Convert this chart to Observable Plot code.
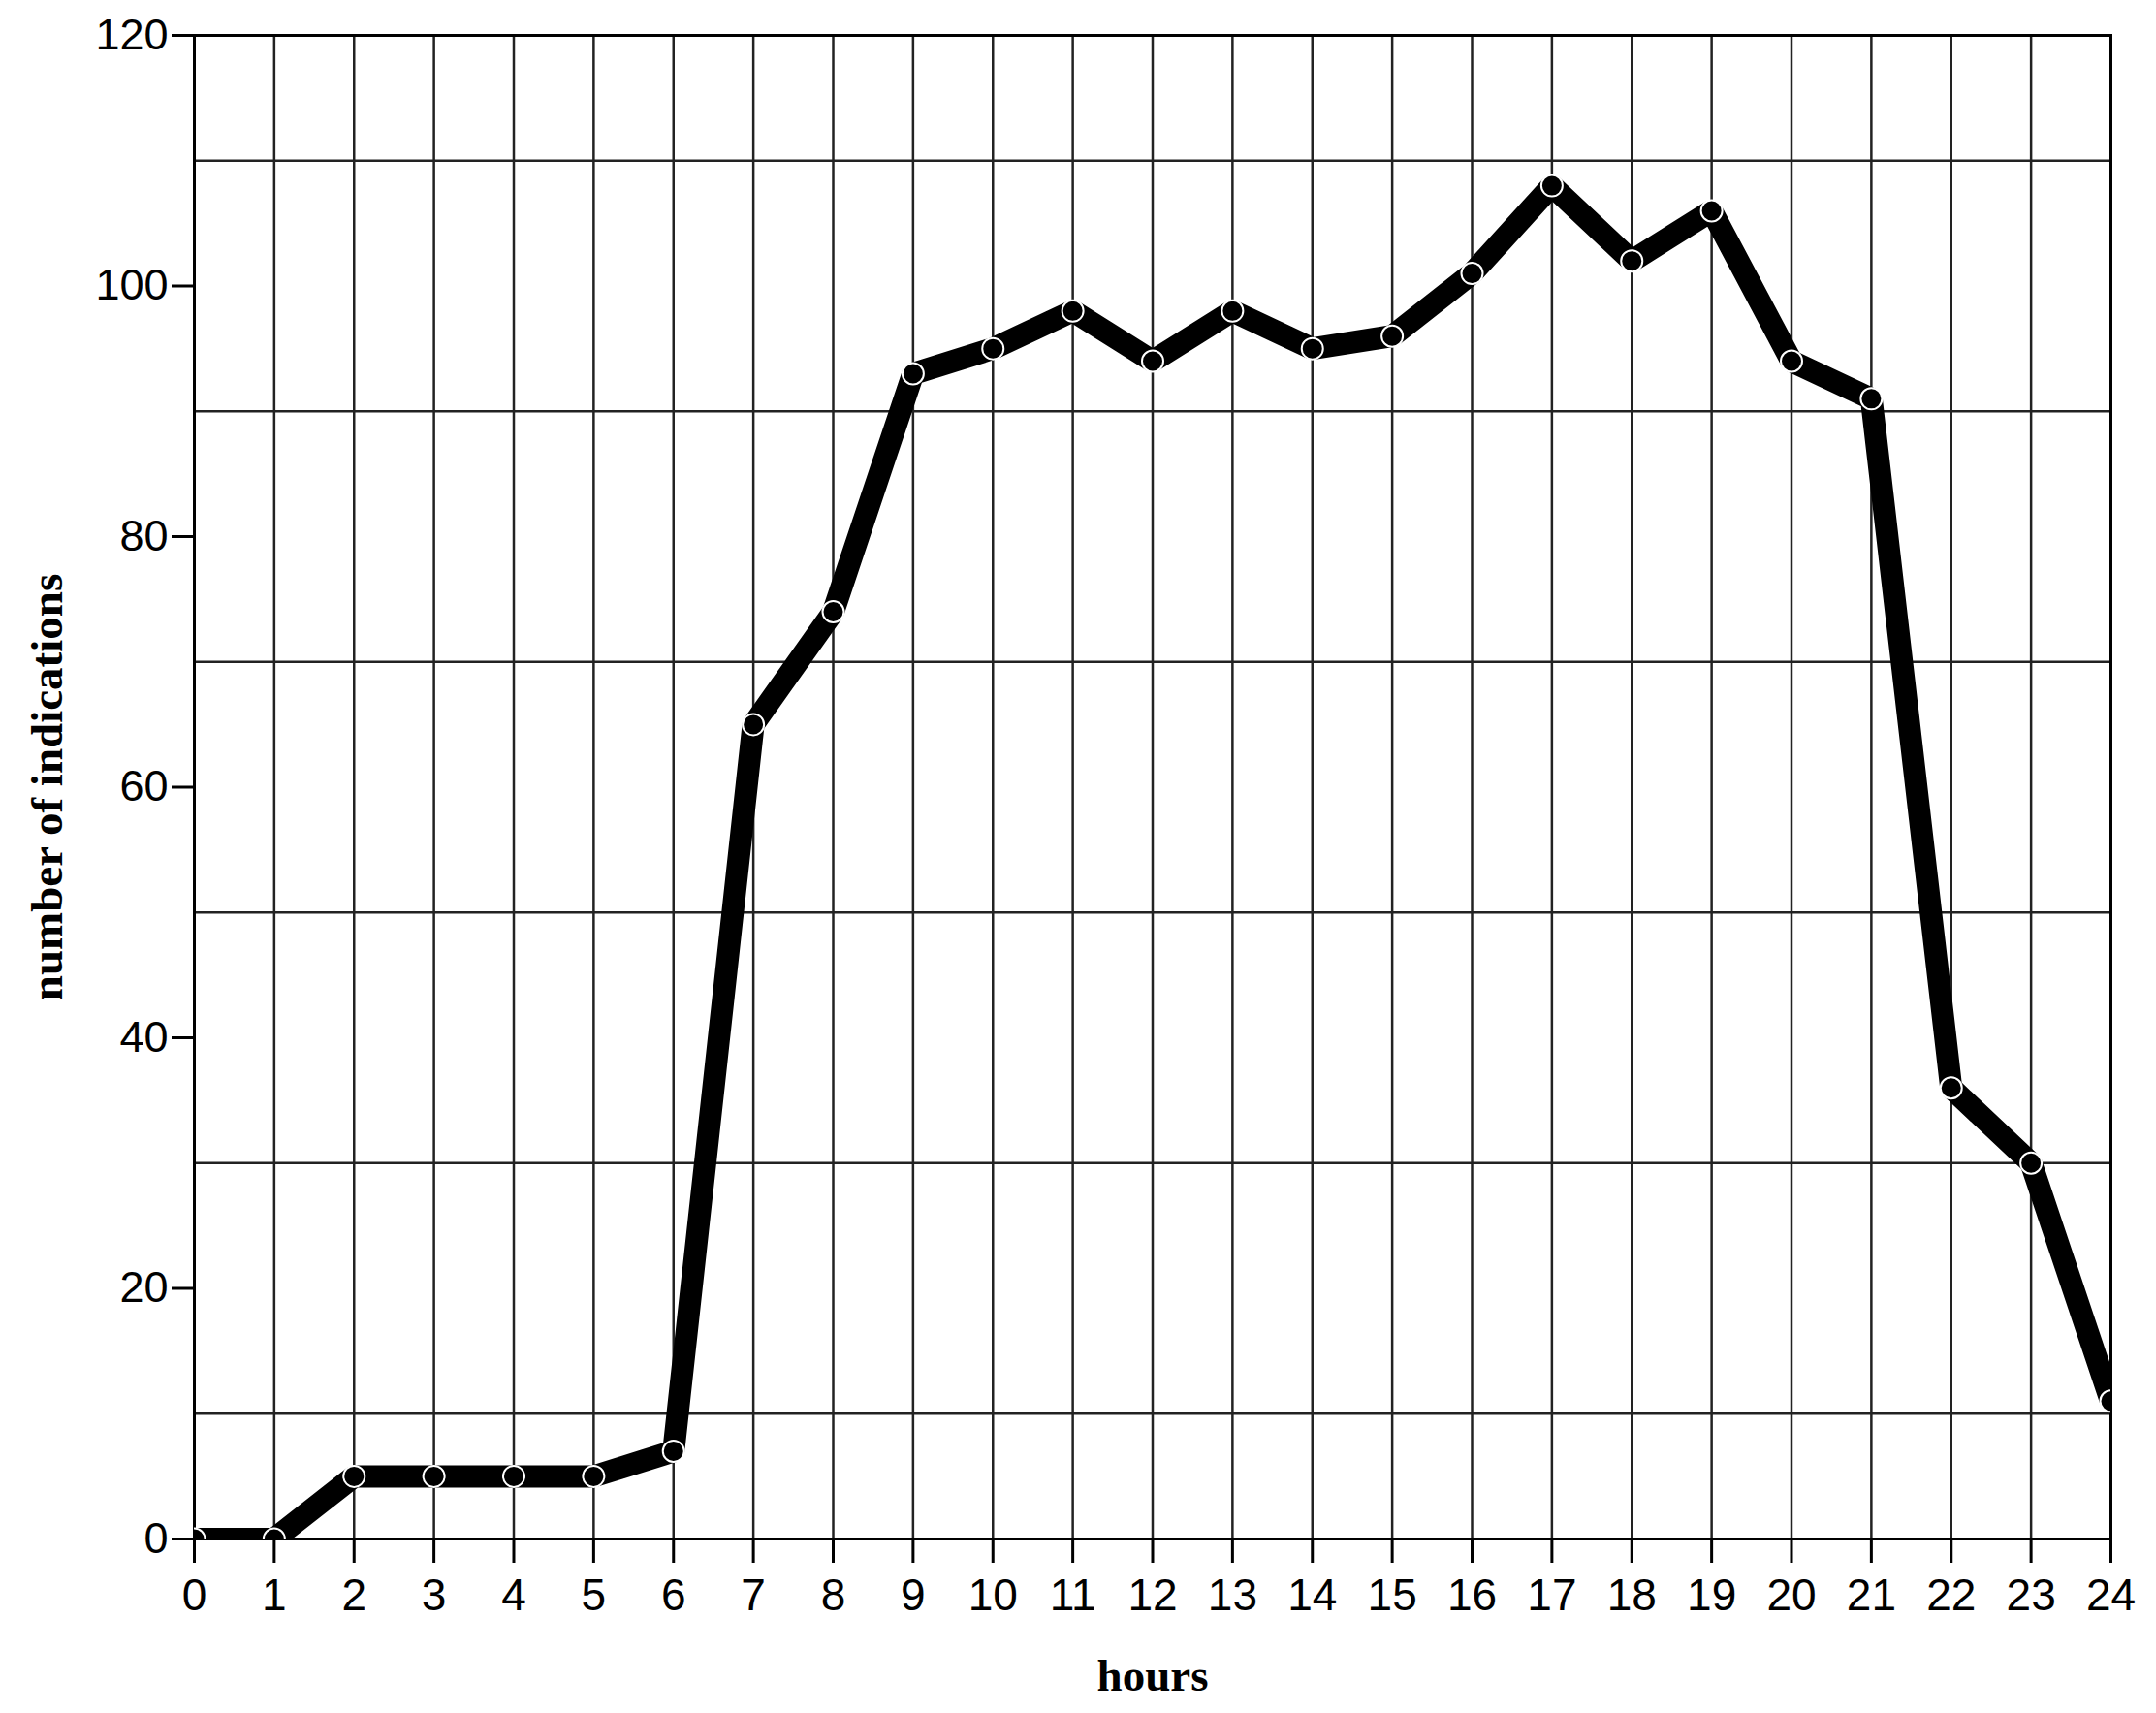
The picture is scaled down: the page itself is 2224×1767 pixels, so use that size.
<!DOCTYPE html>
<html>
<head>
<meta charset="utf-8">
<script src="https://cdn.jsdelivr.net/npm/d3@7"></script>
<script src="https://cdn.jsdelivr.net/npm/@observablehq/plot@0.6"></script>
<style>
  html, body { margin: 0; padding: 0; background: #fff; }
</style>
</head>
<body>
<div id="chart"></div>
<script>
const hours = [0,1,2,3,4,5,6,7,8,9,10,11,12,13,14,15,16,17,18,19,20,21,22,23,24];
const indications = [0,0,5,5,5,5,7,65,74,93,95,98,94,98,95,96,101,108,102,106,94,91,36,30,11];
const yTickValues = [0,20,40,60,80,100,120];
const yGridValues = [10,30,50,70,90,110];
const xLabel = "hours";
const yLabel = "number of indications";

const data = hours.map((h, i) => ({hour: h, value: indications[i]}));

const chart = Plot.plot({
  width: 2224,
  height: 1767,
  marginLeft: 200,
  marginRight: 47,
  marginTop: 36,
  marginBottom: 180,
  style: {fontFamily: "'Liberation Sans', Arial, sans-serif", fontSize: "46px", background: "#fff", color: "#000"},
  x: {domain: [0, 24], axis: null},
  y: {domain: [0, 120], axis: null},
  marks: [
    Plot.ruleY(yGridValues, {stroke: "#222", strokeWidth: 2.5}),
    Plot.ruleX(hours, {stroke: "#222", strokeWidth: 2.5}),
    Plot.frame({stroke: "#000", strokeWidth: 3}),
    Plot.axisY({ticks: yTickValues, tickSize: 23, tickPadding: 4, strokeWidth: 3, label: null, fontSize: 45, tickFormat: d => String(d)}),
    Plot.axisX({ticks: hours, tickSize: 25, tickPadding: 16, strokeWidth: 3, label: null, fontSize: 46, tickFormat: d => String(d)}),
    Plot.line(data, {x: "hour", y: "value", stroke: "#000", strokeWidth: 23, strokeLinejoin: "bevel", strokeLinecap: "butt", clip: true}),
    Plot.dot(data, {x: "hour", y: "value", r: 11, fill: "#000", stroke: "#fff", strokeWidth: 2, clip: true}),
    Plot.text([xLabel], {frameAnchor: "bottom", dy: 156, text: d => d, fontFamily: "'Liberation Serif', 'Times New Roman', serif", fontWeight: "bold", fontSize: 47, fill: "#000"}),
    Plot.text([yLabel], {frameAnchor: "left", textAnchor: "middle", dx: -152, rotate: -90, text: d => d, fontFamily: "'Liberation Serif', 'Times New Roman', serif", fontWeight: "bold", fontSize: 47, fill: "#000"})
  ]
});
document.getElementById("chart").appendChild(chart);
</script>
</body>
</html>
